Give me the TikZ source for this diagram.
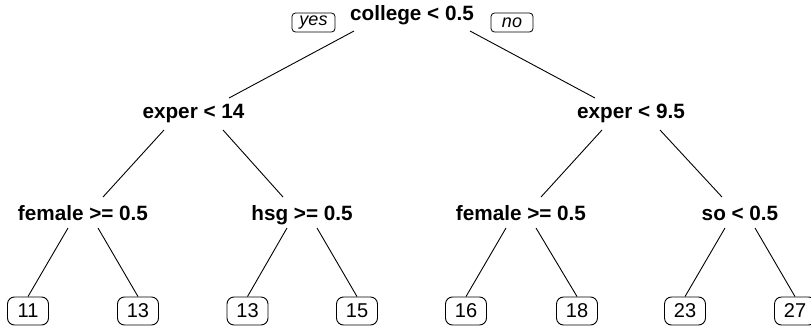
\documentclass[tikz,border=0pt]{standalone}
\usepackage{fontspec}
\setmainfont{Liberation Sans}
\usetikzlibrary{calc}
\begin{document}
\begin{tikzpicture}[x=1pt,y=-1pt,
  splitlab/.style={inner sep=0pt,anchor=base,font=\fontsize{20.7}{24}\selectfont\bfseries},
  leafbox/.style={draw,rounded corners=7pt,line width=0.9pt,minimum width=41pt,minimum height=28pt,inner sep=0pt,font=\fontsize{20}{24}\selectfont},
  yesno/.style={draw,rounded corners=3.5pt,line width=0.8pt,minimum height=19pt,inner sep=0pt,font=\fontsize{18}{20}\selectfont\itshape},
  edge/.style={line width=0.9pt}]
\path[use as bounding box] (0,0) rectangle (811,327);
% split labels
\node[splitlab] (root) at (412,20) {college < 0.5};
\node[yesno,minimum width=43pt] (yes) at (313.5,22.5) {yes};
\node[yesno,minimum width=42pt] (no) at (512,22.5) {no};
\node[splitlab] (ea) at (193.5,118.5) {exper < 14};
\node[splitlab] (eb) at (631,118.5) {exper < 9.5};
\node[splitlab] (fa) at (83,220) {female >= 0.5};
\node[splitlab] (hs) at (302,220) {hsg >= 0.5};
\node[splitlab] (fb) at (521,220) {female >= 0.5};
\node[splitlab] (so) at (740,220) {so < 0.5};
% leaves
\node[leafbox] (l1) at (28,311) {11};
\node[leafbox] (l2) at (138,311) {13};
\node[leafbox] (l3) at (247.5,311) {13};
\node[leafbox] (l4) at (357,311) {15};
\node[leafbox] (l5) at (466,311) {16};
\node[leafbox] (l6) at (577,311) {18};
\node[leafbox] (l7) at (685,311) {23};
\node[leafbox] (l8) at (795,311) {27};
% edges level 0
\draw[edge] ($(root.base)+(-58,11)$) -- ($(ea.base)+(35.5,-20.5)$);
\draw[edge] ($(root.base)+(58,11)$) -- ($(eb.base)+(-36,-20.5)$);
% edges level 1
\draw[edge] ($(ea.base)+(-29.5,11.5)$) -- ($(fa.base)+(20,-23)$);
\draw[edge] ($(ea.base)+(29.5,11.5)$) -- ($(hs.base)+(-19,-23)$);
\draw[edge] ($(eb.base)+(-29,11.5)$) -- ($(fb.base)+(20,-23)$);
\draw[edge] ($(eb.base)+(29,11.5)$) -- ($(so.base)+(-18,-23)$);
% edges level 2
\draw[edge] ($(fa.base)+(-15,8)$) -- (l1.north);
\draw[edge] ($(fa.base)+(15,8)$) -- (l2.north);
\draw[edge] ($(hs.base)+(-15,8)$) -- (l3.north);
\draw[edge] ($(hs.base)+(15,8)$) -- (l4.north);
\draw[edge] ($(fb.base)+(-15,8)$) -- (l5.north);
\draw[edge] ($(fb.base)+(15,8)$) -- (l6.north);
\draw[edge] ($(so.base)+(-15,8)$) -- (l7.north);
\draw[edge] ($(so.base)+(15,8)$) -- (l8.north);
\end{tikzpicture}
\end{document}
